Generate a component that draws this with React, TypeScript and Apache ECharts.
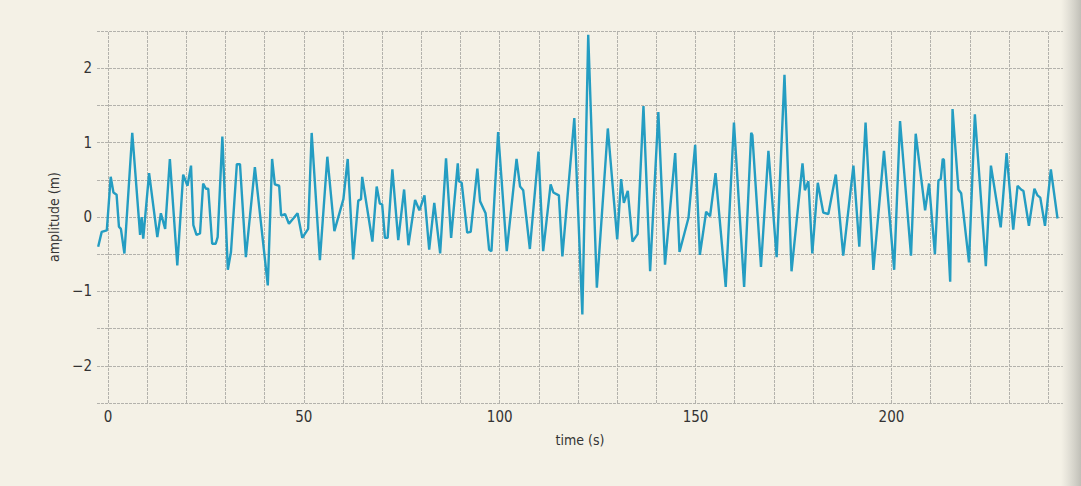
import React, { useEffect, useRef } from "react";
import * as echarts from "echarts";

// time (s) of each vertex of the trace
const times: number[] = [
  -2.5, -1.6, -0.3, 0.7, 1.4, 2.2, 2.8, 3.3, 4.2, 6.2, 8.2, 8.6, 9.0, 10.5, 12.6, 13.5, 14.6, 15.8, 17.7, 19.2,
  20.3, 21.2, 21.8, 22.6, 23.5, 24.3, 25.0, 25.6, 26.6, 27.5, 28.0, 29.2, 30.6, 31.4, 32.9, 33.7, 35.2, 37.5, 40.8, 41.9,
  42.6, 43.7, 44.2, 45.2, 46.2, 48.4, 49.6, 51.1, 52.0, 54.1, 56.0, 57.8, 60.1, 61.2, 62.6, 63.9, 64.6, 64.9, 67.5, 68.6,
  69.4, 70.0, 70.7, 71.4, 72.6, 74.1, 75.6, 76.7, 78.4, 79.5, 80.8, 82.0, 83.3, 84.8, 86.3, 87.6, 89.3, 89.6, 90.3, 91.7,
  92.6, 94.3, 95.0, 96.4, 97.3, 97.9, 99.6, 101.8, 104.3, 105.2, 106.0, 107.7, 109.9, 111.1, 113.0, 113.7, 115.1, 116.0, 119.05, 121.1,
  122.6, 124.8, 127.6, 130.0, 131.0, 131.7, 132.7, 133.9, 135.2, 136.7, 138.4, 140.5, 142.2, 144.8, 145.9, 148.2, 149.9, 151.1, 152.7, 153.7,
  155.1, 157.7, 159.8, 162.4, 164.2, 164.5, 166.7, 168.6, 170.7, 172.7, 174.5, 177.3, 177.9, 178.8, 179.8, 181.2, 182.6, 183.9, 185.8, 187.7,
  190.3, 191.8, 193.4, 195.4, 198.1, 200.7, 202.2, 205.0, 206.2, 208.6, 209.6, 211.1, 212.0, 212.6, 213.1, 213.4, 215.0, 215.6, 217.1, 217.8,
  219.8, 221.3, 224.1, 225.4, 227.9, 229.4, 231.1, 232.2, 233.1, 233.7, 235.1, 236.5, 237.3, 238.0, 239.2, 240.7, 242.4,
];

// amplitude (m) of each vertex
const amps: number[] = [
  -0.40, -0.20, -0.18, 0.54, 0.33, 0.30, -0.13, -0.16, -0.49, 1.13, -0.24, 0.00, -0.29, 0.59, -0.27, 0.05, -0.16, 0.78, -0.65, 0.57,
  0.42, 0.69, -0.11, -0.24, -0.22, 0.45, 0.38, 0.38, -0.36, -0.36, -0.27, 1.08, -0.71, -0.47, 0.71, 0.71, -0.54, 0.67, -0.92, 0.78,
  0.44, 0.42, 0.02, 0.04, -0.09, 0.05, -0.28, -0.16, 1.13, -0.58, 0.81, -0.19, 0.24, 0.78, -0.57, 0.22, 0.24, 0.54, -0.33, 0.41,
  0.18, 0.17, -0.28, -0.28, 0.64, -0.31, 0.37, -0.38, 0.23, 0.09, 0.29, -0.44, 0.19, -0.49, 0.79, -0.28, 0.72, 0.48, 0.46, -0.21,
  -0.20, 0.65, 0.21, 0.05, -0.44, -0.46, 1.14, -0.46, 0.78, 0.41, 0.36, -0.43, 0.88, -0.46, 0.44, 0.33, 0.29, -0.53, 1.33, -1.31,
  2.45, -0.95, 1.19, -0.30, 0.51, 0.19, 0.35, -0.33, -0.23, 1.49, -0.73, 1.41, -0.64, 0.86, -0.47, -0.01, 0.97, -0.51, 0.07, 0.01,
  0.59, -0.94, 1.27, -0.94, 1.13, 1.10, -0.67, 0.89, -0.54, 1.91, -0.73, 0.72, 0.36, 0.48, -0.49, 0.46, 0.06, 0.04, 0.57, -0.52,
  0.69, -0.40, 1.27, -0.71, 0.89, -0.71, 1.29, -0.52, 1.12, 0.09, 0.45, -0.50, 0.49, 0.51, 0.78, 0.77, -0.87, 1.45, 0.37, 0.32,
  -0.61, 1.38, -0.66, 0.69, -0.14, 0.86, -0.17, 0.42, 0.37, 0.35, -0.12, 0.38, 0.29, 0.26, -0.12, 0.64, -0.02,
];

const xLabelValues: number[] = [0, 50, 100, 150, 200];
const xGridValues: number[] = [0, 10, 20, 30, 40, 50, 60, 70, 80, 90, 100, 110, 120, 130, 140, 150, 160, 170, 180, 190, 200, 210, 220, 230, 240];
const yLabelValues: number[] = [-2, -1, 0, 1, 2];

const FONT = '"Liberation Sans Narrow", "DejaVu Sans Condensed", "Liberation Sans", sans-serif';
const GRID_COLOR = "#b3b2ac";
const TEXT_COLOR = "#333333";

export default function App() {
  const ref = useRef<HTMLDivElement>(null);

  useEffect(() => {
    document.body.style.margin = "0";
    document.body.style.background = "#f4f1e6";
    const chart = echarts.init(ref.current as HTMLDivElement, null, { renderer: "svg" });
    const data = times.map((t, i) => [t, amps[i]]);
    chart.setOption({
      animation: false,
      backgroundColor: "#f4f1e6",
      textStyle: { fontFamily: FONT },
      grid: { left: 97, right: 18, top: 31, bottom: 83, containLabel: false },
      xAxis: {
        type: "value",
        min: -2.8,
        max: 243.8,
        name: "time (s)",
        nameLocation: "middle",
        nameGap: 30,
        nameTextStyle: { fontFamily: FONT, fontSize: 14, color: TEXT_COLOR },
        axisLine: { show: false },
        axisTick: { show: false },
        splitLine: { show: false },
        axisLabel: {
          customValues: xLabelValues,
          fontFamily: FONT,
          fontSize: 15,
          color: TEXT_COLOR,
          margin: 6,
        },
      },
      yAxis: {
        type: "value",
        min: -2.5,
        max: 2.5,
        interval: 0.5,
        name: "amplitude (m)",
        nameLocation: "middle",
        nameGap: 25,
        nameTextStyle: { fontFamily: FONT, fontSize: 14, color: TEXT_COLOR },
        axisLine: { show: false },
        axisTick: { show: false },
        splitLine: { show: true, lineStyle: { color: GRID_COLOR, width: 1, type: [3, 1] } },
        axisLabel: {
          fontFamily: FONT,
          fontSize: 15,
          color: TEXT_COLOR,
          margin: 5,
          formatter: (v: number) =>
            yLabelValues.indexOf(v) >= 0 ? String(v).replace("-", "\u2212") : "",
        },
      },
      graphic: [
        {
          type: "rect",
          right: 0,
          top: 0,
          shape: { width: 20, height: 486 },
          silent: true,
          style: {
            fill: new echarts.graphic.LinearGradient(0, 0, 1, 0, [
              { offset: 0, color: "rgba(170,170,165,0)" },
              { offset: 1, color: "rgba(150,150,145,0.55)" },
            ]),
          },
        },
      ],
      series: [
        {
          type: "line",
          data,
          showSymbol: false,
          symbol: "none",
          lineStyle: { color: "#249dc2", width: 2.4 },
          z: 3,
          markLine: {
            silent: true,
            symbol: "none",
            label: { show: false },
            lineStyle: { color: GRID_COLOR, width: 1, type: [3, 1] },
            data: xGridValues.map((v) => ({ xAxis: v })),
            z: 1,
          },
        },
      ],
    });
    return () => chart.dispose();
  }, []);

  return (
    <div
      ref={ref}
      style={{ position: "fixed", left: 0, top: 0, width: 1081, height: 486 }}
    />
  );
}
